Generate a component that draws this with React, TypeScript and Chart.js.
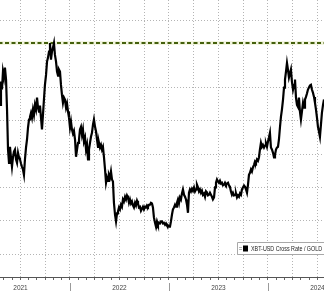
import React, { useEffect, useRef } from "react";
import { Chart, registerables } from "chart.js";

Chart.register(...registerables);

// Decimal-year dates
const dateYears = [
  2021.293, 2021.303, 2021.313, 2021.323, 2021.333, 2021.343, 2021.354, 2021.364, 2021.374, 2021.384,
  2021.394, 2021.404, 2021.414, 2021.424, 2021.434, 2021.444, 2021.455, 2021.465, 2021.475, 2021.485,
  2021.495, 2021.505, 2021.515, 2021.525, 2021.535, 2021.545, 2021.556, 2021.566, 2021.576, 2021.586,
  2021.596, 2021.606, 2021.616, 2021.626, 2021.636, 2021.646, 2021.657, 2021.667, 2021.677, 2021.687,
  2021.697, 2021.707, 2021.717, 2021.727, 2021.737, 2021.747, 2021.758, 2021.768, 2021.778, 2021.788,
  2021.798, 2021.808, 2021.818, 2021.828, 2021.838, 2021.848, 2021.859, 2021.869, 2021.879, 2021.889,
  2021.899, 2021.909, 2021.919, 2021.929, 2021.939, 2021.949, 2021.960, 2021.970, 2021.980, 2021.990,
  2022.000, 2022.010, 2022.020, 2022.030, 2022.040, 2022.051, 2022.061, 2022.071, 2022.081, 2022.091,
  2022.101, 2022.111, 2022.121, 2022.131, 2022.141, 2022.152, 2022.162, 2022.172, 2022.182, 2022.192,
  2022.202, 2022.212, 2022.222, 2022.232, 2022.242, 2022.253, 2022.263, 2022.273, 2022.283, 2022.293,
  2022.303, 2022.313, 2022.323, 2022.333, 2022.343, 2022.354, 2022.364, 2022.374, 2022.384, 2022.394,
  2022.404, 2022.414, 2022.424, 2022.434, 2022.444, 2022.455, 2022.465, 2022.475, 2022.485, 2022.495,
  2022.505, 2022.515, 2022.525, 2022.535, 2022.545, 2022.556, 2022.566, 2022.576, 2022.586, 2022.596,
  2022.606, 2022.616, 2022.626, 2022.636, 2022.646, 2022.657, 2022.667, 2022.677, 2022.687, 2022.697,
  2022.707, 2022.717, 2022.727, 2022.737, 2022.747, 2022.758, 2022.768, 2022.778, 2022.788, 2022.798,
  2022.808, 2022.818, 2022.828, 2022.838, 2022.848, 2022.859, 2022.869, 2022.879, 2022.889, 2022.899,
  2022.909, 2022.919, 2022.929, 2022.939, 2022.949, 2022.960, 2022.970, 2022.980, 2022.990, 2023.000,
  2023.010, 2023.020, 2023.030, 2023.040, 2023.051, 2023.061, 2023.071, 2023.081, 2023.091, 2023.101,
  2023.111, 2023.121, 2023.131, 2023.141, 2023.152, 2023.162, 2023.172, 2023.182, 2023.192, 2023.202,
  2023.212, 2023.222, 2023.232, 2023.242, 2023.253, 2023.263, 2023.273, 2023.283, 2023.293, 2023.303,
  2023.313, 2023.323, 2023.333, 2023.343, 2023.354, 2023.364, 2023.374, 2023.384, 2023.394, 2023.404,
  2023.414, 2023.424, 2023.434, 2023.444, 2023.455, 2023.465, 2023.475, 2023.485, 2023.495, 2023.505,
  2023.515, 2023.525, 2023.535, 2023.545, 2023.556, 2023.566, 2023.576, 2023.586, 2023.596, 2023.606,
  2023.616, 2023.626, 2023.636, 2023.646, 2023.657, 2023.667, 2023.677, 2023.687, 2023.697, 2023.707,
  2023.717, 2023.727, 2023.737, 2023.747, 2023.758, 2023.768, 2023.778, 2023.788, 2023.798, 2023.808,
  2023.818, 2023.828, 2023.838, 2023.848, 2023.859, 2023.869, 2023.879, 2023.889, 2023.899, 2023.909,
  2023.919, 2023.929, 2023.939, 2023.949, 2023.960, 2023.970, 2023.980, 2023.990, 2024.000, 2024.010,
  2024.020, 2024.030, 2024.040, 2024.051, 2024.061, 2024.071, 2024.081, 2024.091, 2024.101, 2024.111,
  2024.121, 2024.131, 2024.141, 2024.152, 2024.162, 2024.172, 2024.182, 2024.192, 2024.202, 2024.212,
  2024.222, 2024.232, 2024.242, 2024.253, 2024.263, 2024.273, 2024.283, 2024.293, 2024.303, 2024.313,
  2024.323, 2024.333, 2024.343, 2024.354, 2024.364, 2024.374, 2024.384, 2024.394, 2024.404, 2024.414,
  2024.424, 2024.434, 2024.444, 2024.455, 2024.465, 2024.475, 2024.485, 2024.495, 2024.505, 2024.515,
  2024.525, 2024.535, 2024.545, 2024.556, 2024.566,
];

// XBT-USD cross rate / gold ratio
const ratioValues = [
  27.4, 30.9, 29.7, 32.4, 31.5, 33.0, 31.2, 26.7, 20.7, 18.7,
  21.1, 19.5, 18.1, 19.5, 20.4, 20.7, 19.2, 18.7, 20.2, 19.5,
  19.2, 18.6, 18.1, 17.7, 16.9, 19.2, 21.0, 22.2, 24.0, 25.2,
  25.6, 26.2, 25.5, 26.7, 25.9, 27.4, 26.7, 28.5, 27.0, 26.4,
  27.3, 25.5, 23.7, 25.9, 28.2, 30.4, 31.9, 33.9, 34.5, 35.4,
  36.7, 34.2, 35.4, 36.0, 36.7, 34.9, 33.9, 32.4, 31.8, 32.7,
  32.4, 30.4, 28.9, 27.7, 28.5, 28.2, 27.0, 27.6, 26.4, 25.5,
  24.0, 24.9, 23.7, 23.1, 23.5, 22.2, 19.6, 20.7, 21.7, 22.2,
  23.7, 24.1, 22.9, 23.7, 21.9, 22.5, 20.7, 21.4, 19.2, 20.7,
  21.7, 22.6, 23.2, 24.4, 25.2, 24.1, 23.4, 22.2, 21.1, 21.7,
  21.0, 21.4, 20.7, 21.1, 19.6, 17.7, 15.7, 16.5, 16.0, 16.9,
  16.5, 17.4, 16.2, 15.9, 12.7, 10.9, 9.9, 11.1, 11.4, 12.0,
  11.7, 12.4, 12.1, 13.2, 12.9, 13.6, 13.2, 13.8, 13.5, 12.7,
  13.2, 12.6, 12.9, 12.3, 12.0, 12.7, 12.3, 13.0, 12.6, 12.0,
  12.1, 11.5, 11.8, 12.1, 11.7, 12.1, 12.0, 12.3, 12.1, 12.4,
  12.4, 12.7, 12.6, 12.0, 10.5, 9.7, 9.1, 9.9, 9.4, 9.7,
  9.6, 9.9, 9.9, 9.6, 9.7, 9.4, 9.6, 9.3, 9.3, 9.1,
  9.1, 9.9, 10.9, 11.7, 12.0, 12.4, 12.1, 12.7, 13.2, 12.6,
  13.5, 13.2, 14.1, 14.7, 13.9, 13.6, 13.2, 12.4, 11.2, 14.2,
  14.7, 14.4, 14.8, 14.5, 15.0, 14.4, 14.7, 15.4, 15.0, 14.4,
  14.7, 14.2, 14.5, 13.9, 14.1, 13.6, 14.4, 14.2, 13.8, 13.9,
  14.2, 13.9, 13.6, 13.2, 13.5, 15.0, 15.7, 16.2, 15.9, 15.7,
  16.0, 15.6, 15.7, 15.3, 15.4, 15.7, 15.4, 15.6, 15.7, 15.3,
  15.1, 14.4, 13.9, 14.2, 13.8, 13.9, 14.1, 13.5, 13.8, 13.6,
  14.1, 13.9, 14.7, 15.0, 15.3, 15.1, 14.7, 14.2, 15.4, 16.9,
  17.2, 17.7, 17.4, 18.0, 18.4, 18.9, 18.7, 19.2, 19.0, 19.5,
  20.7, 21.7, 21.1, 21.4, 21.0, 21.3, 21.6, 21.1, 21.9, 22.5,
  23.2, 21.0, 20.7, 20.2, 19.5, 19.9, 20.7, 21.0, 21.1, 22.2,
  24.0, 25.6, 26.7, 28.2, 30.0, 31.2, 32.4, 33.7, 32.7, 31.5,
  32.1, 32.7, 30.9, 29.7, 30.4, 31.2, 28.5, 27.4, 27.1, 28.5,
  26.4, 25.2, 26.4, 27.7, 27.0, 28.2, 28.6, 29.1, 29.7, 30.0,
  30.3, 30.4, 29.7, 29.2, 28.6, 27.7, 26.7, 25.5, 24.1, 23.4,
  22.6, 24.4, 26.2, 27.4, 28.2,
];

const seriesLabel = "XBT-USD Cross Rate / GOLD";
const referenceLevel = 36.7;
const yearLabels = ["2021", "2022", "2023", "2024"];
const yearBoundaries = [2022, 2023, 2024];
const yGridValues = [5, 10, 15, 20, 25, 30, 35, 40];
const hiddenGridValue = 35;
const xRange = [2021.293, 2024.566];
const yRange = [1.55, 43.15];

const FONT = '"Liberation Sans", Arial, sans-serif';
const GRID = "#b4b4b4";

const yearMarks = {
  id: "yearMarks",
  afterDraw(chart: any) {
    const { ctx, chartArea, scales } = chart;
    ctx.save();
    ctx.strokeStyle = "#9a9a9a";
    ctx.lineWidth = 1;
    yearBoundaries.forEach((yr) => {
      const px = Math.round(scales.x.getPixelForValue(yr)) + 0.5;
      ctx.beginPath();
      ctx.moveTo(px, chartArea.bottom + 6);
      ctx.lineTo(px, chartArea.bottom + 14);
      ctx.stroke();
    });
    ctx.restore();
  },
};

const legendBox = {
  id: "legendBox",
  afterDraw(chart: any) {
    const { ctx, chartArea } = chart;
    const ds = chart.data.datasets[0];
    const x = chartArea.right - 87;
    const y = chartArea.bottom - 35;
    ctx.save();
    ctx.fillStyle = "#ffffff";
    ctx.strokeStyle = "#a8a8a8";
    ctx.lineWidth = 1;
    ctx.beginPath();
    ctx.rect(x + 0.5, y + 0.5, 100, 12);
    ctx.fill();
    ctx.stroke();
    ctx.strokeStyle = "#b5b5b5";
    ctx.beginPath();
    ctx.moveTo(x + 2, y + 5.5);
    ctx.lineTo(x + 5, y + 5.5);
    ctx.moveTo(x + 2, y + 7.5);
    ctx.lineTo(x + 5, y + 7.5);
    ctx.stroke();
    ctx.fillStyle = ds.borderColor;
    ctx.fillRect(x + 6, y + 3.5, 5, 6);
    ctx.fillStyle = "#222";
    ctx.font = `6.5px ${FONT}`;
    ctx.textBaseline = "middle";
    ctx.fillText(ds.label, x + 14, y + 7, 71);
    ctx.restore();
  },
};

export default function App() {
  const ref = useRef<HTMLCanvasElement | null>(null);

  useEffect(() => {
    if (!ref.current) return;
    const mainData = dateYears.map((d, i) => ({ x: d, y: ratioValues[i] }));
    const refData = [
      { x: xRange[0] - 1, y: referenceLevel },
      { x: xRange[1] + 1, y: referenceLevel },
    ];
    const chart = new Chart(ref.current, {
      type: "line",
      data: {
        datasets: [
          {
            label: seriesLabel,
            data: mainData,
            borderColor: "#000000",
            borderWidth: 2.2,
            pointRadius: 0,
            tension: 0,
            order: 0,
          },
          {
            label: "level",
            data: refData,
            borderColor: "#44600c",
            borderWidth: 2,
            borderDash: [4, 2.5],
            pointRadius: 0,
            order: 1,
          },
          {
            label: "band",
            data: refData,
            borderColor: "#f3f5e0",
            borderWidth: 4,
            pointRadius: 0,
            order: 2,
          },
        ],
      },
      plugins: [yearMarks, legendBox],
      options: {
        animation: false,
        responsive: false,
        layout: { padding: 0 },
        plugins: { legend: { display: false }, tooltip: { enabled: false } },
        scales: {
          x: {
            type: "linear",
            min: xRange[0],
            max: xRange[1],
            afterBuildTicks: (scale: any) => {
              const ticks: any[] = [];
              for (let y = 2021; y <= 2024; y++) {
                for (let m = 0; m < 12; m++) {
                  const v = y + m / 12;
                  if (v >= xRange[0] && v <= xRange[1]) ticks.push({ value: v });
                }
              }
              scale.ticks = ticks;
            },
            afterFit: (scale: any) => {
              scale.height = 14;
              scale.paddingLeft = 0;
              scale.paddingRight = 0;
            },
            grid: {
              color: (c: any) => {
                const v = c.tick ? c.tick.value : 0;
                const m = Math.round((v - Math.floor(v)) * 12) % 12;
                return m % 3 === 0 ? GRID : "rgba(0,0,0,0)";
              },
              lineWidth: 1,
              drawTicks: true,
              tickLength: 3,
              tickColor: "#666",
              tickWidth: 1,
            },
            border: { display: true, color: "#555", width: 1, dash: [1, 2] },
            ticks: {
              autoSkip: false,
              maxRotation: 0,
              padding: 4,
              color: "#444",
              font: { size: 6.5, family: FONT },
              callback: (v: any) => {
                const val = Number(v);
                const yr = Math.floor(val + 1e-6);
                const m = Math.round((val - yr) * 12);
                const label = String(yr);
                return m === 6 && yearLabels.includes(label) ? label : "";
              },
            },
          },
          y: {
            type: "linear",
            min: yRange[0],
            max: yRange[1],
            afterBuildTicks: (scale: any) => {
              scale.ticks = yGridValues.map((v) => ({ value: v }));
            },
            afterFit: (scale: any) => {
              scale.width = 0;
            },
            grid: {
              color: (c: any) =>
                c.tick && c.tick.value === hiddenGridValue ? "rgba(0,0,0,0)" : GRID,
              lineWidth: 1,
              drawTicks: false,
            },
            border: { display: false, dash: [1, 2] },
            ticks: { display: false },
          },
        },
      },
    });
    return () => chart.destroy();
  }, []);

  return (
    <div style={{ position: "absolute", left: 0, top: 0, width: 324, height: 291, background: "#fff" }}>
      <canvas ref={ref} width={324} height={291} style={{ display: "block" }} />
    </div>
  );
}
